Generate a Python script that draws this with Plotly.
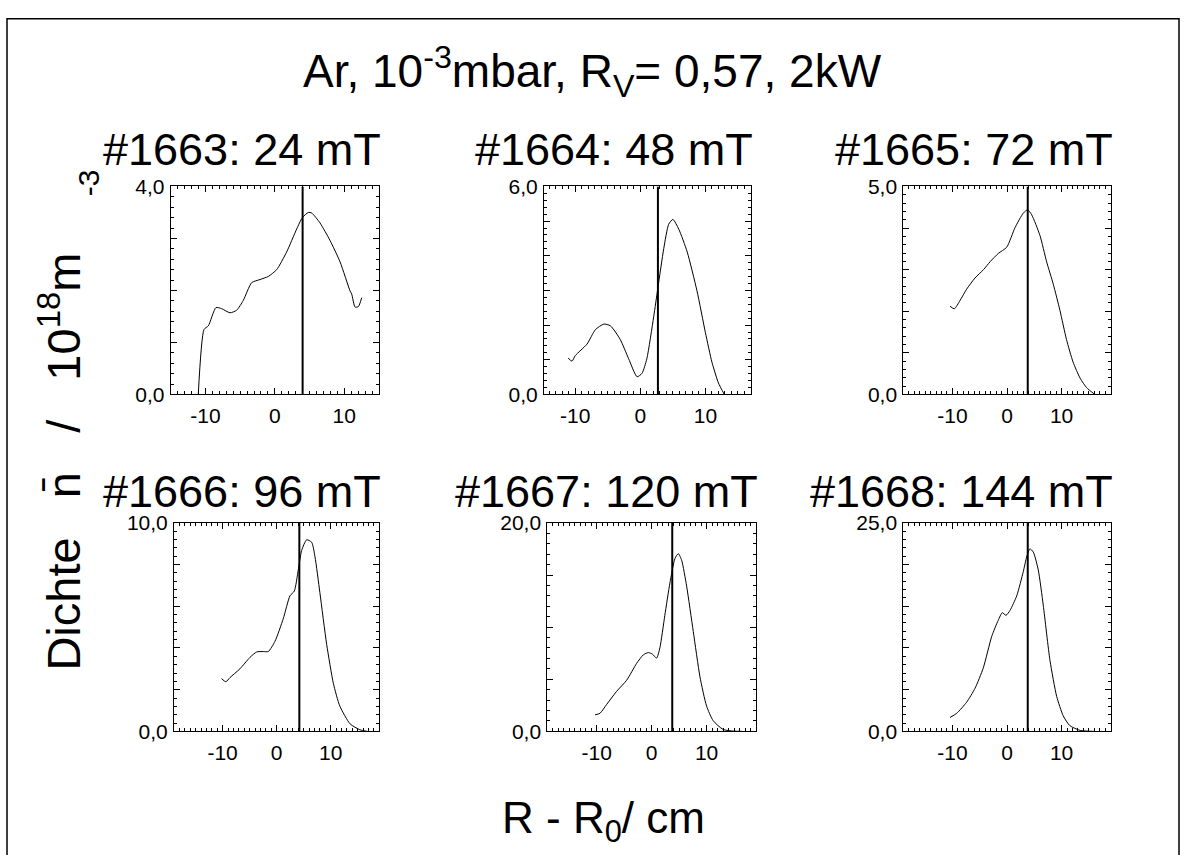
import plotly.graph_objects as go

W, H = 1186, 855

# ---------------- data ----------------
titles = ["#1663: 24 mT", "#1664: 48 mT", "#1665: 72 mT",
          "#1666: 96 mT", "#1667: 120 mT", "#1668: 144 mT"]

x_1663 = [-11.03, -10.2, -9.58, -8.48, -7.66, -6.46, -5.5, -4.54, -3.34, -2.14, -0.93, 0.26,
          1.70, 3.14, 3.96, 4.82, 5.3, 6.5, 7.95, 9.39, 10.83, 11.07, 11.55, 12.03, 12.51]
y_1663 = [0.0, 1.25, 1.32, 1.67, 1.65, 1.57, 1.62, 1.81, 2.15, 2.21, 2.27, 2.40,
          2.74, 3.18, 3.40, 3.50, 3.49, 3.30, 2.96, 2.55, 1.99, 1.93, 1.68, 1.69, 1.86]

x_1664 = [-11.1, -10.5, -10.0, -8.2, -6.9, -5.6, -4.6, -3.1, -1.8, -0.5, 0.26, 1.0,
          2.05, 2.7, 3.6, 4.35, 5.0, 5.9, 7.2, 8.7, 10.0, 11.0, 12.0, 12.9]
y_1664 = [1.05, 0.96, 1.12, 1.45, 1.87, 2.03, 1.98, 1.59, 1.03, 0.51, 0.61, 1.03,
          2.24, 3.08, 4.21, 4.91, 5.05, 4.77, 4.11, 2.99, 1.78, 0.93, 0.33, 0.0]

x_1665 = [-10.44, -9.65, -8.6, -7.4, -5.86, -4.3, -3.1, -1.6, -0.05, 1.47, 2.99, 3.78,
          4.52, 6.04, 7.26, 8.48, 9.7, 10.9, 12.1, 13.4, 14.6, 16.1]
y_1665 = [2.12, 2.06, 2.26, 2.53, 2.80, 3.0, 3.19, 3.39, 3.54, 4.01, 4.36, 4.44,
          4.32, 3.82, 3.19, 2.65, 2.02, 1.32, 0.78, 0.39, 0.16, 0.0]

x_1666 = [-10.2, -9.4, -8.65, -6.8, -4.94, -3.7, -2.48, -1.55, -0.31, 1.23, 2.46, 3.27,
          4.0, 4.63, 5.56, 6.48, 7.1, 8.0, 9.26, 10.5, 11.7, 13.6, 15.4, 16.8]
y_1666 = [2.53, 2.38, 2.58, 3.0, 3.55, 3.81, 3.83, 3.83, 4.32, 5.41, 6.5, 6.73,
          7.74, 8.68, 9.19, 9.07, 8.37, 6.66, 4.17, 2.30, 1.21, 0.36, 0.08, 0.0]

x_1667 = [-10.3, -9.4, -8.2, -6.4, -4.55, -2.73, -1.52, -0.6, 0.17, 0.9, 1.5, 2.4,
          3.33, 4.24, 4.85, 5.46, 6.37, 7.58, 8.8, 10.0, 11.2, 13.0, 14.9, 16.6]
y_1667 = [1.59, 1.74, 2.58, 3.83, 4.91, 6.53, 7.34, 7.56, 7.4, 7.03, 8.02, 11.13,
          14.25, 16.58, 17.05, 16.42, 13.93, 9.58, 5.23, 2.43, 1.03, 0.19, 0.03, 0.0]

x_1668 = [-10.44, -9.2, -7.4, -5.86, -4.34, -2.8, -1.6, -0.86, -0.18, 0.55, 1.78, 2.99,
          3.6, 4.2, 4.82, 5.73, 6.65, 7.88, 9.1, 10.3, 11.5, 13.4, 16.1]
y_1668 = [1.67, 2.18, 3.5, 5.17, 7.62, 11.39, 13.34, 14.23, 13.92, 14.5, 16.25, 19.17,
          20.92, 21.89, 21.5, 19.36, 15.09, 8.48, 4.2, 1.87, 0.7, 0.12, 0.0]

x_series = [x_1663, x_1664, x_1665, x_1666, x_1667, x_1668]
y_series = [y_1663, y_1664, y_1665, y_1666, y_1667, y_1668]

vline_x = [4.0, 2.7, 3.8, 4.2, 3.75, 3.8]
x_ranges = [[-15, 15], [-14.8, 17.0], [-19, 19], [-19, 19], [-19, 19], [-19, 19]]
y_max = [4, 6, 5, 10, 20, 25]
y_major = [1, 1, 1, 2, 5, 5]
x_tick_vals = [-10, 0, 10]
x_tick_text = ["-10", "0", "10"]

# ---------------- layout geometry (pixels) ----------------
boxes = [(170.7, 379.0, 179.3, 393.0), (544.0, 751.0, 179.3, 393.0), (903.3, 1110.7, 179.3, 393.0),
         (174.0, 379.3, 525.0, 739.3), (547.3, 756.0, 525.0, 739.3), (903.3, 1110.7, 525.0, 739.3)]

FONT = "Arial, Liberation Sans, Helvetica, sans-serif"
NB = "\u00a0"

def fmt(v):
    return ("%.1f" % v).replace(".", ",")

fig = go.Figure()
layout = dict(
    width=W, height=H, margin=dict(l=0, r=0, t=0, b=0),
    paper_bgcolor="white", plot_bgcolor="white", showlegend=False,
    font=dict(family=FONT, color="black"),
)

annotations = []
for i in range(6):
    k = i + 1
    xa = "x" if k == 1 else "x%d" % k
    ya = "y" if k == 1 else "y%d" % k
    fig.add_trace(go.Scatter(x=x_series[i], y=y_series[i], mode="lines",
                             line=dict(color="black", width=1, shape="spline", smoothing=0.6),
                             xaxis=xa, yaxis=ya, hoverinfo="skip"))
    fig.add_trace(go.Scatter(x=[vline_x[i], vline_x[i]], y=[0, y_max[i]], mode="lines",
                             line=dict(color="black", width=2),
                             xaxis=xa, yaxis=ya, hoverinfo="skip"))
    l, r, t, b = boxes[i]
    yvals = []
    v = 0
    while v <= y_max[i] + 1e-9:
        yvals.append(v)
        v += y_major[i]
    ytext = [fmt(yv) if (yv == 0 or abs(yv - y_max[i]) < 1e-9) else "" for yv in yvals]
    axcommon = dict(showgrid=False, zeroline=False, showline=True, linecolor="black",
                    linewidth=1, mirror="allticks", ticks="inside", tickcolor="black",
                    tickwidth=1, tickfont=dict(size=21, family=FONT, color="black"))
    layout["xaxis" if k == 1 else "xaxis%d" % k] = dict(
        domain=[l / W, r / W], range=x_ranges[i], anchor=ya,
        tickmode="array", tickvals=x_tick_vals, ticktext=x_tick_text, ticklen=6,
        minor=dict(ticks="inside", ticklen=3, dtick=1, tick0=0, tickcolor="black", showgrid=False),
        ticklabelstandoff=2, **axcommon)
    layout["yaxis" if k == 1 else "yaxis%d" % k] = dict(
        domain=[1 - b / H, 1 - t / H], range=[0, y_max[i]], anchor=xa,
        tickmode="array", tickvals=yvals, ticktext=ytext, ticklen=6,
        minor=dict(ticks="inside", ticklen=3, dtick=y_major[i] / 5.0, tick0=0,
                   tickcolor="black", showgrid=False),
        ticklabelstandoff=1, **axcommon)
    ty = 141 if i < 3 else 493
    annotations.append(dict(text=titles[i], x=(r + 4) / W, y=1 - ty / H, xref="paper", yref="paper",
                            xanchor="right", yanchor="middle", showarrow=False,
                            font=dict(size=45, family=FONT, color="black")))

annotations.append(dict(text="Ar, 10<sup>-3</sup>mbar, R<sub>V</sub>= 0,57, 2kW",
                        x=592 / W, y=1 - 61 / H, xref="paper", yref="paper",
                        xanchor="center", yanchor="middle", showarrow=False,
                        font=dict(size=46, family=FONT, color="black")))
annotations.append(dict(text="R - R<sub>0</sub>/ cm",
                        x=603 / W, y=1 - 831 / H, xref="paper", yref="paper",
                        xanchor="center", yanchor="middle", showarrow=False,
                        font=dict(size=44, family=FONT, color="black")))
ylab = ("Dichte" + NB * 3 + "n\u0304" + NB * 3 + "/" + NB * 3 + "10<sup>18</sup>m")
annotations.append(dict(text=ylab,
                        x=60 / W, y=1 - 462 / H, xref="paper", yref="paper",
                        xanchor="center", yanchor="middle", textangle=-90, showarrow=False,
                        font=dict(size=47, family=FONT, color="black")))
annotations.append(dict(text="-3",
                        x=88 / W, y=1 - 176 / H, xref="paper", yref="paper",
                        xanchor="center", yanchor="middle", textangle=-90, showarrow=False,
                        font=dict(size=30, family=FONT, color="black")))
layout["annotations"] = annotations
layout["shapes"] = [dict(type="rect", xref="paper", yref="paper",
                         x0=7 / W, x1=1179 / W, y0=-0.05, y1=1 - 7 / H,
                         line=dict(color="black", width=1.5), fillcolor="rgba(0,0,0,0)")]

fig.update_layout(**layout)
fig.write_html("out.html", config={"displayModeBar": False},
               post_script="document.body.style.margin='0';document.body.style.padding='0';")
